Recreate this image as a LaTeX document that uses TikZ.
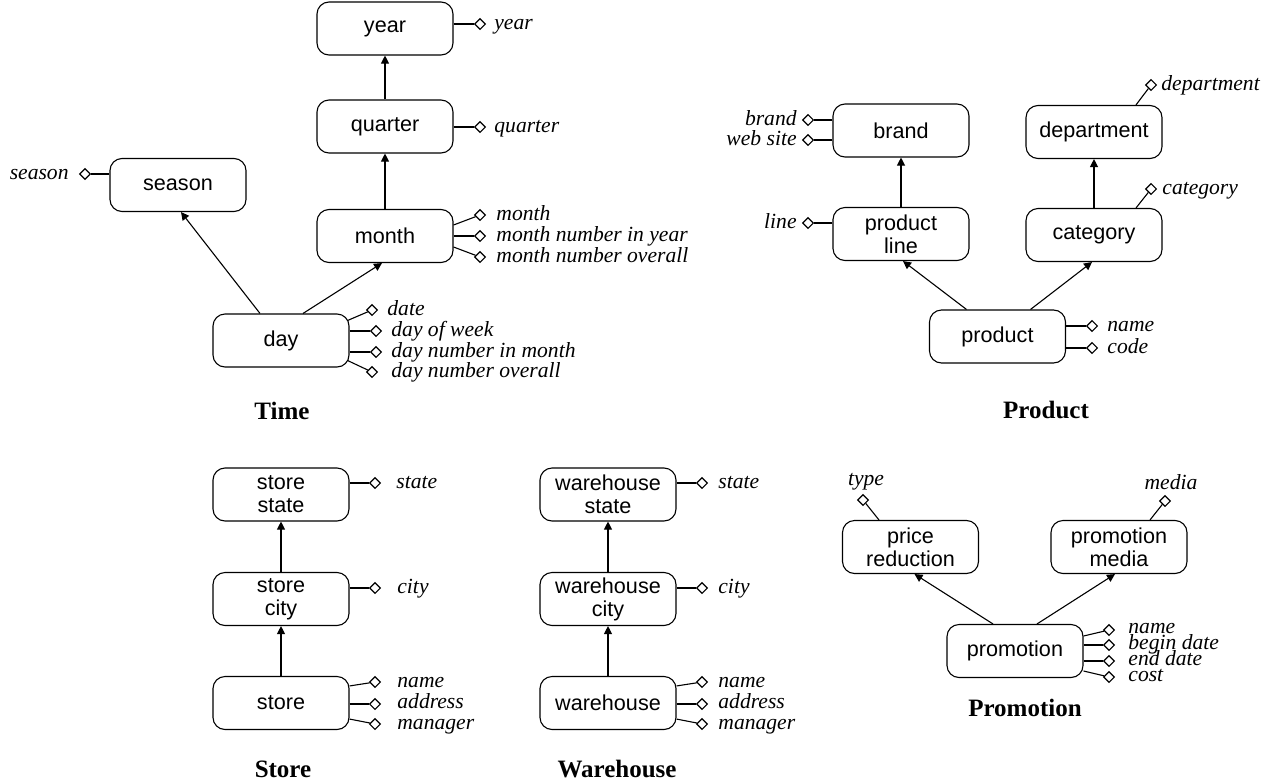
\documentclass[tikz,border=0pt]{standalone}
\usepackage{fontspec}
\setmainfont{Liberation Serif}
\setsansfont{Liberation Sans}
\usetikzlibrary{arrows.meta,shapes.geometric}
\begin{document}
\begin{tikzpicture}[x=0.5pt,y=-0.5pt,
  ent/.style={draw, rounded corners=6pt, minimum width=68pt, minimum height=26.5pt, align=center, inner sep=0pt, font=\sffamily\fontsize{10.8}{11.5}\selectfont, line width=0.55pt},
  dia/.style={diamond, draw, inner sep=0pt, minimum width=5.5pt, minimum height=5.5pt, line width=0.55pt},
  lab/.style={font=\itshape\fontsize{10.8}{12}\selectfont, inner sep=0pt},
  capt/.style={font=\bfseries\fontsize{12.5}{14}\selectfont, inner sep=0pt},
  arr/.style={-{Triangle[length=4pt,width=4pt]}, line width=0.55pt},
  con/.style={line width=0.55pt}]
\useasboundingbox (0,0) rectangle (1280,782);

% ---------------- Time ----------------
\node[ent] (year) at (385,28.5) {year};
\node[ent] (quarter) at (385,126.5) {quarter};
\node[ent] (month) at (385,236) {month};
\node[ent] (season) at (178,185) {season};
\node[ent] (day) at (281,340.5) {day};

\draw[arr] (quarter.north) -- (year.south);
\draw[arr] (month.north) -- (quarter.south);
\draw[arr] ([xshift=11pt]day.north) -- ([xshift=-1.5pt]month.south);
\draw[arr] ([xshift=-10.5pt]day.north) -- ([xshift=1.5pt]season.south);

\node[dia] (ya) at (480,24) {};
\draw[con] (year.east |- ya) -- (ya);
\node[lab, anchor=base west] (lya) at (494,29) {year};

\node[dia] (qa) at (480,127) {};
\draw[con] (quarter.east |- qa) -- (qa);
\node[lab, anchor=base west] (lqa) at (494,132) {quarter};

\node[dia] (sa) at (85,174) {};
\draw[con] (season.west |- sa) -- (sa);
\node[lab, anchor=base east] (lsa) at (69,179) {season};

\node[dia] (m1) at (480,215) {};
\node[dia] (m2) at (480,236) {};
\node[dia] (m3) at (480,257) {};
\draw[con] ([yshift=5.5pt]month.east) -- (m1);
\draw[con] (month.east |- m2) -- (m2);
\draw[con] ([yshift=-5.5pt]month.east) -- (m3);
\node[lab, anchor=base west] (lm1) at (496,220) {month};
\node[lab, anchor=base west] (lm2) at (496,241) {month number in year};
\node[lab, anchor=base west] (lm3) at (496,262) {month number overall};

\node[dia] (d1) at (372,310) {};
\node[dia] (d2) at (376,331) {};
\node[dia] (d3) at (376,352) {};
\node[dia] (d4) at (372,372) {};
\draw[con] ([xshift=-1pt,yshift=10pt]day.east) -- (d1);
\draw[con] (day.east |- d2) -- (d2);
\draw[con] (day.east |- d3) -- (d3);
\draw[con] ([xshift=-1pt,yshift=-10pt]day.east) -- (d4);
\node[lab, anchor=base west] (ld1) at (387,315) {date};
\node[lab, anchor=base west] (ld2) at (391,336) {day of week};
\node[lab, anchor=base west] (ld3) at (391,357) {day number in month};
\node[lab, anchor=base west] (ld4) at (391,377) {day number overall};

\node[capt] (ctime) at (282,411) {Time};

% ---------------- Product ----------------
\node[ent] (brand) at (901,130.5) {brand};
\node[ent] (dept) at (1094,132) {department};
\node[ent] (pline) at (901,234) {product\\line};
\node[ent] (cat) at (1094,235) {category};
\node[ent] (prod) at (997.5,336.5) {product};

\draw[arr] (pline.north) -- (brand.south);
\draw[arr] (cat.north) -- (dept.south);
\draw[arr] ([xshift=-15.5pt]prod.north) -- ([xshift=1pt]pline.south);
\draw[arr] ([xshift=16.5pt]prod.north) -- ([xshift=-1pt]cat.south);

\node[dia] (ba1) at (808,120) {};
\node[dia] (ba2) at (808,140) {};
\draw[con] (brand.west |- ba1) -- (ba1);
\draw[con] (brand.west |- ba2) -- (ba2);
\node[lab, anchor=base east] (lba1) at (797,125) {brand};
\node[lab, anchor=base east] (lba2) at (797,145) {web site};

\node[dia] (pla) at (808,223) {};
\draw[con] (pline.west |- pla) -- (pla);
\node[lab, anchor=base east] (lpla) at (797,228) {line};

\node[dia] (da) at (1151,85) {};
\draw[con] ([xshift=21pt]dept.north) -- (da);
\node[lab, anchor=base west] (lda) at (1161,90) {department};

\node[dia] (ca) at (1151,189) {};
\draw[con] ([xshift=21pt]cat.north) -- (ca);
\node[lab, anchor=base west] (lca) at (1162,194) {category};

\node[dia] (pa1) at (1092,326) {};
\node[dia] (pa2) at (1092,348) {};
\draw[con] (prod.east |- pa1) -- (pa1);
\draw[con] (prod.east |- pa2) -- (pa2);
\node[lab, anchor=base west] (lpa1) at (1107,331) {name};
\node[lab, anchor=base west] (lpa2) at (1107,353) {code};

\node[capt] (cprod) at (1046,410) {Product};

% ---------------- Store ----------------
\node[ent] (sstate) at (281,494.5) {store\\state};
\node[ent] (scity) at (281,599) {store\\city};
\node[ent] (store) at (281,703) {store};

\draw[arr] (scity.north) -- (sstate.south);
\draw[arr] (store.north) -- (scity.south);

\node[dia] (ssa) at (375,483) {};
\draw[con] (sstate.east |- ssa) -- (ssa);
\node[lab, anchor=base west] (lssa) at (396,488) {state};

\node[dia] (sca) at (375,588) {};
\draw[con] (scity.east |- sca) -- (sca);
\node[lab, anchor=base west] (lsca) at (397,593) {city};

\node[dia] (st1) at (375,682) {};
\node[dia] (st2) at (375,704) {};
\node[dia] (st3) at (375,724) {};
\draw[con] ([yshift=-5pt]store.north east) -- (st1);
\draw[con] (store.east |- st2) -- (st2);
\draw[con] ([yshift=5.5pt]store.south east) -- (st3);
\node[lab, anchor=base west] (lst1) at (397,687) {name};
\node[lab, anchor=base west] (lst2) at (397,708) {address};
\node[lab, anchor=base west] (lst3) at (397,729) {manager};

\node[capt] (cstore) at (283,769) {Store};

% ---------------- Warehouse ----------------
\node[ent] (wstate) at (608,494.5) {warehouse\\state};
\node[ent] (wcity) at (608,599) {warehouse\\city};
\node[ent] (wh) at (608,703) {warehouse};

\draw[arr] (wcity.north) -- (wstate.south);
\draw[arr] (wh.north) -- (wcity.south);

\node[dia] (wsa) at (702,483) {};
\draw[con] (wstate.east |- wsa) -- (wsa);
\node[lab, anchor=base west] (lwsa) at (718,488) {state};

\node[dia] (wca) at (702,588) {};
\draw[con] (wcity.east |- wca) -- (wca);
\node[lab, anchor=base west] (lwca) at (718,593) {city};

\node[dia] (w1) at (702,682) {};
\node[dia] (w2) at (702,704) {};
\node[dia] (w3) at (702,724) {};
\draw[con] ([yshift=-5pt]wh.north east) -- (w1);
\draw[con] (wh.east |- w2) -- (w2);
\draw[con] ([yshift=5.5pt]wh.south east) -- (w3);
\node[lab, anchor=base west] (lw1) at (718,687) {name};
\node[lab, anchor=base west] (lw2) at (718,708) {address};
\node[lab, anchor=base west] (lw3) at (718,729) {manager};

\node[capt] (cwh) at (617,769) {Warehouse};

% ---------------- Promotion ----------------
\node[ent] (price) at (910.5,547) {price\\reduction};
\node[ent] (pmedia) at (1119,547) {promotion\\media};
\node[ent] (promo) at (1015,651) {promotion};

\draw[arr] ([xshift=-11pt]promo.north) -- ([xshift=2pt]price.south);
\draw[arr] ([xshift=11pt]promo.north) -- ([xshift=-2pt]pmedia.south);

\node[dia] (ta) at (863,500) {};
\draw[con] ([xshift=-15.75pt]price.north) -- (ta);
\node[lab, anchor=base] (lta) at (866,485) {type};

\node[dia] (ma) at (1165,501) {};
\draw[con] ([xshift=15.5pt]pmedia.north) -- (ma);
\node[lab, anchor=base] (lma) at (1171,489) {media};

\node[dia] (p1) at (1109,630) {};
\node[dia] (p2) at (1109,645) {};
\node[dia] (p3) at (1109,661) {};
\node[dia] (p4) at (1109,677) {};
\draw[con] ([yshift=7.5pt]promo.east) -- (p1);
\draw[con] (promo.east |- p2) -- (p2);
\draw[con] (promo.east |- p3) -- (p3);
\draw[con] ([yshift=-10pt]promo.east) -- (p4);
\node[lab, anchor=base west] (lp1) at (1128,633) {name};
\node[lab, anchor=base west] (lp2) at (1128,649) {begin date};
\node[lab, anchor=base west] (lp3) at (1128,665) {end date};
\node[lab, anchor=base west] (lp4) at (1128,681) {cost};

\node[capt] (cpromo) at (1025,708) {Promotion};
\end{tikzpicture}
\end{document}
